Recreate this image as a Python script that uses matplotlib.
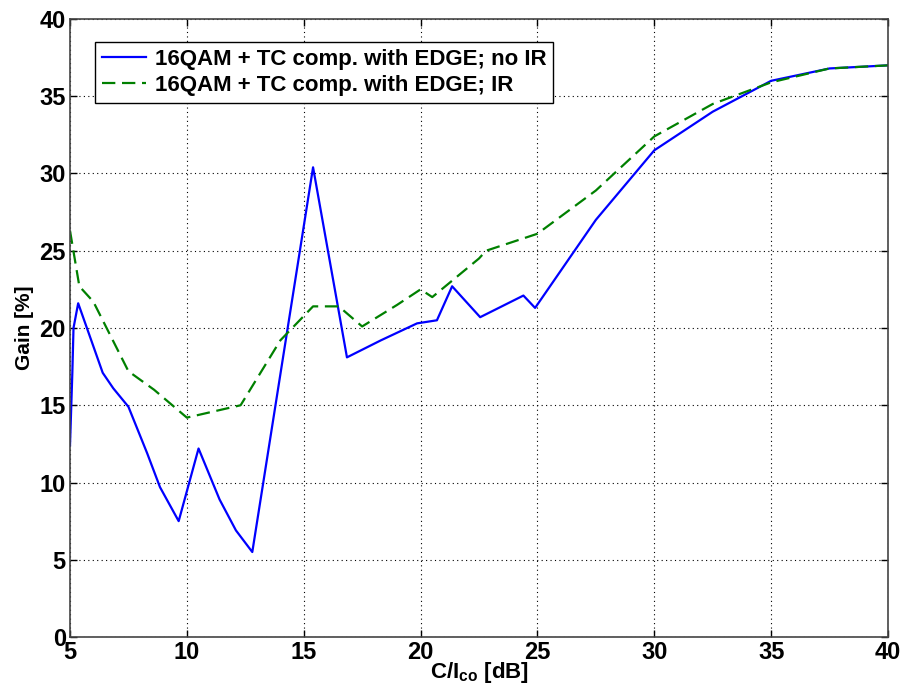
import matplotlib
matplotlib.use("Agg")
import matplotlib.pyplot as plt

plt.rcParams['font.family'] = ['Liberation Sans', 'DejaVu Sans']
plt.rcParams['mathtext.fontset'] = 'custom'
plt.rcParams['mathtext.rm'] = 'Liberation Sans:bold'
plt.rcParams['mathtext.bf'] = 'Liberation Sans:bold'

# Data
x_noir = [5, 5.1, 5.15, 5.35, 6.4, 6.85, 7.5, 8.3, 8.85, 9.65, 10.5, 11.4, 12.1, 12.8,
          15.4, 16.85, 18.3, 19.85, 20.7, 21.35, 22.55, 24.4, 24.9, 27.5, 30, 32.5, 35, 37.5, 40]
y_noir = [12.4, 17.1, 20.0, 21.6, 17.1, 16.1, 14.9, 11.9, 9.7, 7.5, 12.2, 8.9, 6.9, 5.5,
          30.4, 18.1, 19.2, 20.3, 20.5, 22.7, 20.7, 22.1, 21.3, 27.0, 31.5, 34.0, 36.0, 36.8, 37.0]
x_ir = [5, 5.4, 6.0, 6.6, 7.5, 8.6, 10.0, 12.3, 14.0, 15.4, 16.5, 17.5, 19.0, 20.0, 20.5,
        22.5, 22.8, 25.0, 27.5, 30.0, 32.5, 35.0, 37.5, 40.0]
y_ir = [26.3, 22.7, 21.7, 19.9, 17.2, 16.0, 14.2, 15.0, 19.2, 21.4, 21.4, 20.1, 21.5, 22.5, 22.0,
        24.5, 25.0, 26.1, 28.9, 32.4, 34.5, 35.9, 36.8, 37.0]
labels = ['16QAM + TC comp. with EDGE; no IR', '16QAM + TC comp. with EDGE; IR']
xticks = [5, 10, 15, 20, 25, 30, 35, 40]
yticks = [0, 5, 10, 15, 20, 25, 30, 35, 40]

fig = plt.figure(figsize=(9.01, 6.89), dpi=100)
ax = fig.add_axes([70/901, 1-637/689, (888-70)/901, (637-19)/689])
ax.plot(x_noir, y_noir, '-', color='#0000ff', lw=1.6, label=labels[0])
ax.plot(x_ir, y_ir, '--', color='#008000', lw=1.6, dashes=(6, 3), label=labels[1])
ax.set_xlim(5, 40)
ax.set_ylim(0, 40)
ax.set_xticks(xticks)
ax.set_yticks(yticks)
ax.grid(True, linestyle=(0, (1, 3)), color='black', lw=0.8)
ax.tick_params(direction='in', top=True, right=True, length=5, width=1, pad=3)
for lab in ax.get_xticklabels() + ax.get_yticklabels():
    lab.set_fontweight('bold')
    lab.set_fontsize(17)
for s in ax.spines.values():
    s.set_color('#444444')
    s.set_linewidth(1.2)
ax.set_xlabel(r'C/I$_{\mathbf{co}}$ [dB]', fontweight='bold', fontsize=16, labelpad=-3)
ax.set_ylabel('Gain [%]', fontweight='bold', fontsize=15, labelpad=4)
leg = ax.legend(loc='upper left', bbox_to_anchor=(25/818, 1-23/618), fancybox=False,
                edgecolor='black', framealpha=1, prop={'weight': 'bold', 'size': 16},
                handlelength=2.0, borderpad=0.3, labelspacing=0.25, handletextpad=0.4, borderaxespad=0)
leg.get_frame().set_linewidth(1.0)
fig.savefig('out.png', dpi=100)
